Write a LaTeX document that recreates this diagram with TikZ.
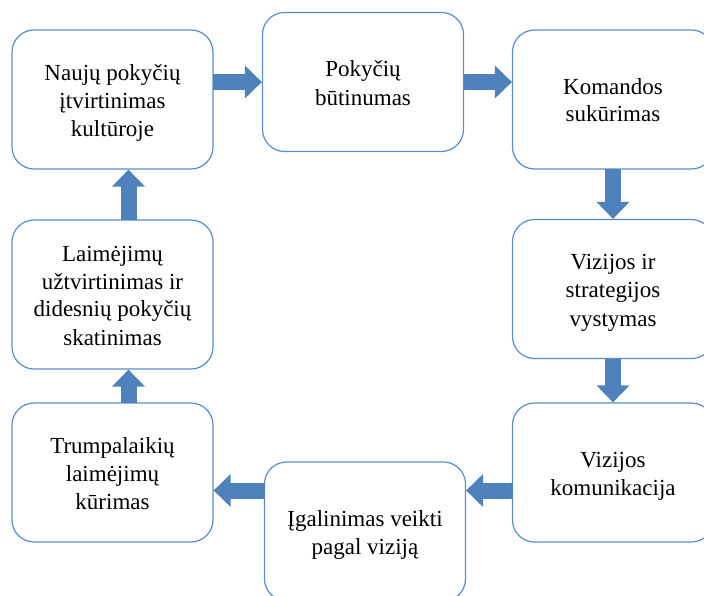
\documentclass[tikz,border=0pt]{standalone}
\usepackage{fontspec}
\setmainfont{Liberation Serif}
\usetikzlibrary{arrows.meta,calc}
\definecolor{boxline}{RGB}{88,140,204}
\definecolor{arrowfill}{RGB}{79,129,189}
% fixed-size strut so every line box is 27pt tall
\newcommand{\lnst}{\rule[-4.5pt]{0pt}{27pt}}
\begin{document}
\begin{tikzpicture}[x=1pt,y=-1pt,
  stage/.style={draw=boxline, line width=1.2pt, fill=white, rounded corners=22pt,
    minimum width=201pt, minimum height=139pt, inner sep=0pt, align=center,
    font=\fontsize{23}{27}\selectfont, text=black},
  blockarrow/.style={line width=16pt, draw=arrowfill, fill=arrowfill,
    -{Triangle[length=17pt,width=32pt]}, shorten <=-0.6pt}]
\useasboundingbox (0,0) rectangle (704,596);

% the eight stages of the change process
\node[stage] (b1) at (112.5,99.5) {\lnst Naujų pokyčių\\\lnst įtvirtinimas\\\lnst kultūroje};
\node[stage] (b2) at (363,82) {\lnst Pokyčių\\\lnst būtinumas};
\node[stage] (b3) at (613,99.5) {\lnst Komandos\\\lnst sukūrimas};
\node[stage] (b4) at (613,289) {\lnst Vizijos ir\\\lnst strategijos\\\lnst vystymas};
\node[stage] (b5) at (613,472.5) {\lnst Vizijos\\\lnst komunikacija};
\node[stage] (b6) at (365,531.5) {\lnst Įgalinimas veikti\\\lnst pagal viziją};
\node[stage] (b7) at (112.5,472.5) {\lnst Trumpalaikių\\\lnst laimėjimų\\\lnst kūrimas};
\node[stage, minimum height=149pt] (b8) at (112.5,294.5)
  {\lnst Laimėjimų\\\lnst užtvirtinimas ir\\\lnst didesnių pokyčių\\\lnst skatinimas};

% reference points for the offset arrows
\coordinate (low) at ([yshift=-18pt]b5.west);
\coordinate (c7) at ([xshift=16pt]b7.north);
\coordinate (c8s) at ([xshift=16pt]b8.south);
\coordinate (c8n) at ([xshift=16pt]b8.north);
\coordinate (c1) at ([xshift=16pt]b1.south);

% block arrows between consecutive stages
\draw[blockarrow] (b1.east |- b2.west) -- (b2.west);
\draw[blockarrow] (b2.east) -- (b3.west |- b2.east);
\draw[blockarrow] (b3.south) -- (b4.north);
\draw[blockarrow] (b4.south) -- (b5.north);
\draw[blockarrow] (low) -- (b6.east |- low);
\draw[blockarrow] (b6.west |- low) -- (b7.east |- low);
\draw[blockarrow] (c7) -- (c8s);
\draw[blockarrow] (c8n) -- (c1);
\end{tikzpicture}
\end{document}
